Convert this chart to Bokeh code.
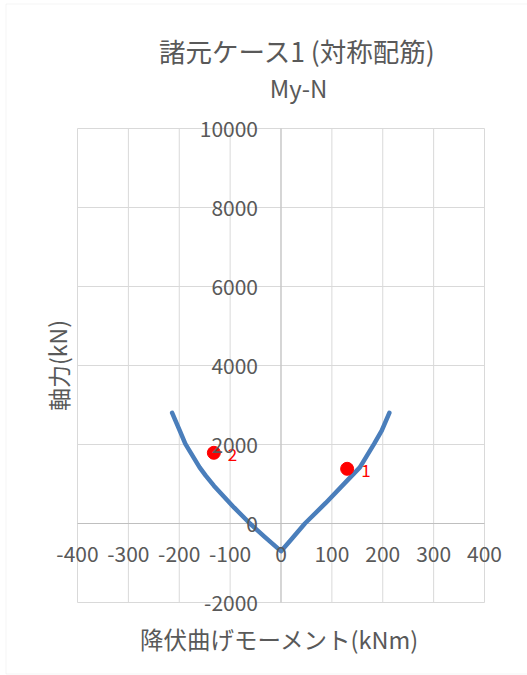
from bokeh.plotting import figure
from bokeh.models import Label, BoxAnnotation, ColumnDataSource, Range1d
from bokeh.core.properties import value
from bokeh.embed import file_html
from bokeh.resources import INLINE

# Axis ticks
x_ticks = [-400, -300, -200, -100, 0, 100, 200, 300, 400]
y_ticks = [-2000, 0, 2000, 4000, 6000, 8000, 10000]

# My-N interaction curve (yield moment kNm, axial force kN)
moment = [-214, -199, -188, -180, -160, -148, -132, -92, -61, -31, 0,
          18, 47, 88, 130, 155, 183, 198, 213]
axial = [2800, 2350, 2015, 1845, 1422, 1212, 958, 400, 0, -352, -700,
         -436, 0, 520, 1085, 1422, 2015, 2350, 2800]

# Design load points
point_moment = [130, -132]
point_axial = [1385, 1790]
point_labels = ["1", "2"]

FONT = "Noto Sans CJK JP"
TXT = "#595959"
GRID = "#d9d9d9"
AXIS = "#bfbfbf"

# Canvas and plot-area geometry (pixels)
W, H = 527, 675
PL, PR, PT, PB = 77, 484, 128, 602

xmin, xmax = x_ticks[0], x_ticks[-1]
ymin, ymax = y_ticks[0], y_ticks[-1]
kx = (PR - PL) / (xmax - xmin)
ky = (PB - PT) / (ymax - ymin)


def px2x(px):
    return xmin + (px - PL) / kx


def px2y(py):
    return ymin + (PB - py) / ky


p = figure(width=W, height=H,
           x_range=Range1d(px2x(0), px2x(W)), y_range=Range1d(px2y(H), px2y(0)),
           x_axis_type=None, y_axis_type=None,
           toolbar_location=None, output_backend="svg",
           min_border=0, min_border_left=0, min_border_right=0,
           min_border_top=0, min_border_bottom=0,
           background_fill_color="white", border_fill_color="white",
           outline_line_color=None)

# Chart area border
p.add_layout(BoxAnnotation(left=px2x(5.5), right=px2x(W + 10), top=px2y(3.5), bottom=px2y(673.5),
                           fill_color=None, line_color=GRID, line_width=1))

# Gridlines over the plot area
p.segment(x0=x_ticks, y0=[ymin] * len(x_ticks), x1=x_ticks, y1=[ymax] * len(x_ticks),
          line_color=GRID, line_width=1)
p.segment(x0=[xmin] * len(y_ticks), y0=y_ticks, x1=[xmax] * len(y_ticks), y1=y_ticks,
          line_color=GRID, line_width=1)

# Axes crossing at the origin
p.segment(x0=[0, xmin], y0=[ymin, 0], x1=[0, xmax], y1=[ymax, 0],
          line_color=AXIS, line_width=1)

p.line(moment, axial, line_color="#4a7ebb", line_width=4.5,
       line_cap="round", line_join="round")

src = ColumnDataSource(dict(x=point_moment, y=point_axial, t=point_labels))
p.scatter("x", "y", source=src, size=13, fill_color="#ff0000", line_color="#ff0000")
p.text("x", "y", text="t", source=src, x_offset=14, y_offset=2,
       text_baseline="middle", text_align="left", text_color="#ff0000",
       text_font=value(FONT), text_font_size="17px")

# Tick labels next to the crossing axes
for t in y_ticks:
    p.add_layout(Label(x=0, y=t, text=str(t), x_offset=-23, text_align="right",
                       text_baseline="middle", text_color=TXT, text_font=FONT,
                       text_font_size="21px"))
for t in x_ticks:
    p.add_layout(Label(x=t, y=0, text=str(t), y_offset=-30, text_align="center",
                       text_baseline="middle", text_color=TXT, text_font=FONT,
                       text_font_size="21px"))

# Titles
p.add_layout(Label(x=px2x(297), y=px2y(50), text="諸元ケース1 (対称配筋)",
                   text_align="center", text_baseline="middle", text_color=TXT,
                   text_font=FONT, text_font_size="26.5px"))
p.add_layout(Label(x=px2x(298), y=px2y(87), text="My-N",
                   text_align="center", text_baseline="middle", text_color=TXT,
                   text_font=FONT, text_font_size="24px"))
p.add_layout(Label(x=px2x(279), y=px2y(638), text="降伏曲げモーメント(kNm)",
                   text_align="center", text_baseline="middle", text_color=TXT,
                   text_font=FONT, text_font_size="23.5px"))
p.add_layout(Label(x=px2x(57), y=px2y(365), text="軸力(kN)", angle=1.5708,
                   text_align="center", text_baseline="middle", text_color=TXT,
                   text_font=FONT, text_font_size="23px"))

open("out.html", "w").write(file_html(p, INLINE))
